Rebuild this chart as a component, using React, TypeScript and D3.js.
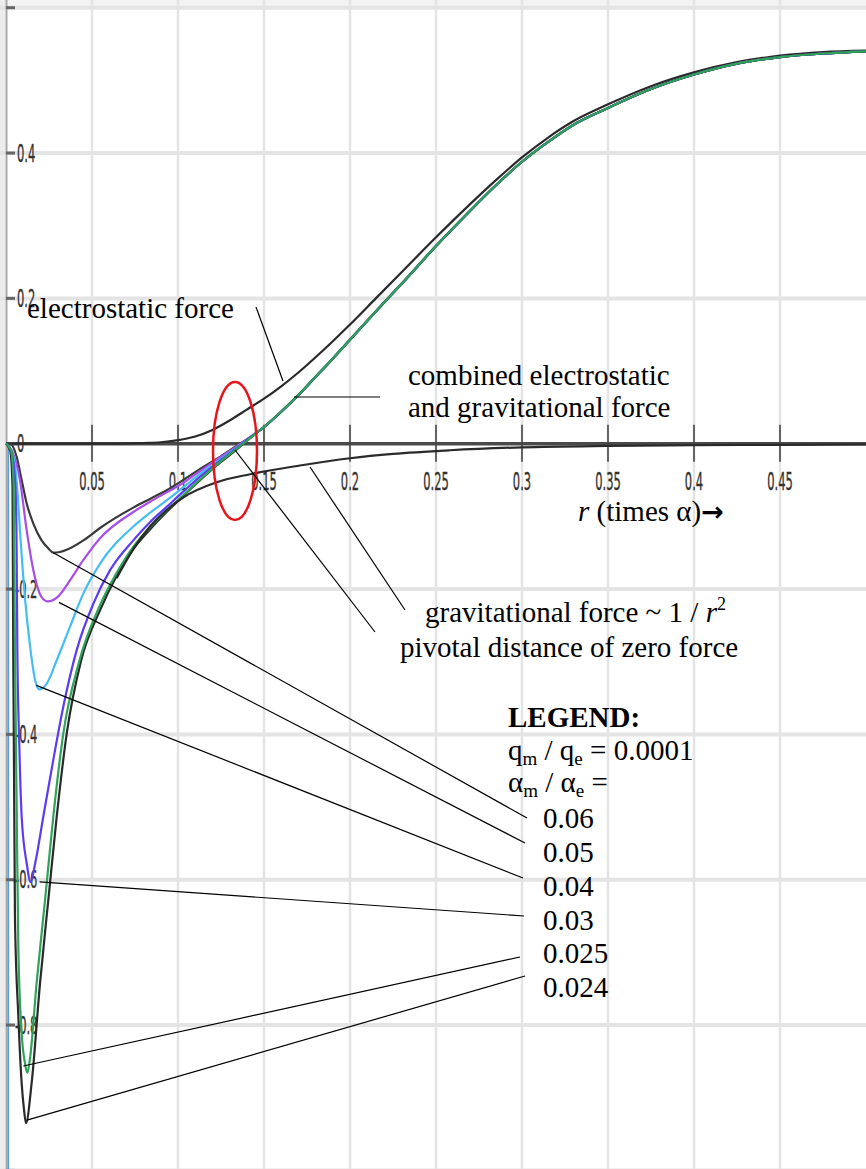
import React from "react";
import * as d3 from "d3";

type Pt = [number, number];

const width = 866;
const height = 1169;

// axis ticks
const xTickValues = [0.05, 0.1, 0.15, 0.2, 0.25, 0.3, 0.35, 0.4, 0.45];
const xTickLabels = ["0.05", "0.1", "0.15", "0.2", "0.25", "0.3", "0.35", "0.4", "0.45"];
const xGridValues = [0.05, 0.1, 0.15, 0.2, 0.25, 0.3, 0.35, 0.4, 0.45];
const yGridValues = [0.6, 0.4, 0.2, -0.2, -0.4, -0.6, -0.8, -1.0];
const yTickValues = [0.6, 0.4, 0.2, 0, -0.2, -0.4, -0.6, -0.8, -1.0];
const yTickLabels = ["", "0.4", "0.2", "0", "-0.2", "-0.4", "-0.6", "-0.8", ""];

// electrostatic force (upper black curve)
const electrostatic: Pt[] = [
  [0, 0], [0.06, 0], [0.08, 0.001], [0.09, 0.002], [0.1, 0.005], [0.11, 0.01],
  [0.12, 0.019], [0.13, 0.032], [0.14, 0.047], [0.15, 0.062], [0.16, 0.079],
  [0.17, 0.098], [0.18, 0.119], [0.19, 0.141], [0.2, 0.164], [0.215, 0.2],
  [0.23, 0.236], [0.25, 0.284], [0.27, 0.33], [0.285, 0.363], [0.3, 0.394],
  [0.315, 0.421], [0.33, 0.444], [0.35, 0.467], [0.375, 0.492], [0.4, 0.511],
  [0.425, 0.525], [0.45, 0.534], [0.475, 0.539], [0.5, 0.541],
];

// gravitational force ~ 1/r^2
const gravitational: Pt[] = [
  [0.0643, -0.185], [0.074, -0.145], [0.0837, -0.114], [0.093, -0.092], [0.103, -0.074],
  [0.1225, -0.053], [0.1419, -0.042], [0.1709, -0.03], [0.2, -0.02], [0.225, -0.014],
  [0.258, -0.009], [0.3, -0.005], [0.35, -0.003], [0.4, -0.002], [0.45, -0.0015], [0.5, -0.001],
];

// combined force beyond the pivot, shared by all ratios
const combinedTail: Pt[] = [
  [0.15, 0.023], [0.16, 0.044], [0.17, 0.067], [0.18, 0.092], [0.19, 0.117],
  [0.2, 0.143], [0.215, 0.182], [0.23, 0.22], [0.25, 0.272], [0.27, 0.321],
  [0.285, 0.356], [0.3, 0.388], [0.315, 0.415], [0.33, 0.439], [0.35, 0.462],
  [0.375, 0.488], [0.4, 0.508], [0.425, 0.523], [0.45, 0.532], [0.475, 0.537], [0.5, 0.54],
];

// combined force, alpha_m / alpha_e = 0.06 ... 0.024
const combined006: Pt[] = [
  [0, 0], [0.0023, 0], [0.0062, -0.018], [0.0091, -0.05], [0.012, -0.082], [0.0159, -0.11],
  [0.0207, -0.133], [0.0246, -0.144], [0.0275, -0.15], [0.0314, -0.149], [0.0353, -0.146],
  [0.045, -0.133], [0.0547, -0.116], [0.074, -0.088], [0.0837, -0.076], [0.0934, -0.064],
  [0.103, -0.05], [0.112, -0.036], [0.1225, -0.021], [0.132, -0.006], [0.14, 0.006],
];
const combined005: Pt[] = [
  [0, 0], [0.0035, -0.01], [0.0081, -0.05], [0.012, -0.119], [0.0159, -0.174],
  [0.0207, -0.211], [0.0244, -0.217], [0.0304, -0.21], [0.0372, -0.188], [0.045, -0.16],
  [0.0547, -0.13], [0.074, -0.094], [0.0837, -0.08], [0.0934, -0.067], [0.103, -0.054],
  [0.112, -0.039], [0.1225, -0.022], [0.132, -0.007], [0.14, 0.006],
];
const combined004: Pt[] = [
  [0, 0], [0.003, -0.01], [0.0052, -0.03], [0.0068, -0.07], [0.0081, -0.119],
  [0.011, -0.211], [0.014, -0.279], [0.0169, -0.325], [0.0194, -0.338], [0.0237, -0.33],
  [0.0295, -0.298], [0.0372, -0.252], [0.045, -0.206], [0.0547, -0.165], [0.074, -0.114],
  [0.0837, -0.095], [0.0934, -0.078], [0.103, -0.06], [0.112, -0.043], [0.1225, -0.025],
  [0.132, -0.009], [0.14, 0.005],
];
const combined003: Pt[] = [
  [0, 0], [0.003, -0.01], [0.0055, -0.06], [0.0062, -0.15], [0.0066, -0.284],
  [0.0078, -0.42], [0.0091, -0.513], [0.012, -0.577], [0.0143, -0.603], [0.017, -0.577],
  [0.0217, -0.513], [0.0275, -0.435], [0.0333, -0.362], [0.0411, -0.284], [0.0508, -0.22],
  [0.0605, -0.174], [0.074, -0.133], [0.0837, -0.108], [0.0934, -0.087], [0.103, -0.066],
  [0.112, -0.047], [0.1225, -0.027], [0.132, -0.01], [0.14, 0.005],
];
const combined0025: Pt[] = [
  [0, 0], [0.003, -0.01], [0.0045, -0.06], [0.0052, -0.28], [0.0062, -0.5],
  [0.0072, -0.697], [0.0091, -0.811], [0.011, -0.852], [0.0124, -0.866], [0.014, -0.845],
  [0.0178, -0.742], [0.0227, -0.628], [0.0275, -0.513], [0.0333, -0.399], [0.0425, -0.3],
  [0.0547, -0.222], [0.0643, -0.178], [0.074, -0.142], [0.0837, -0.115], [0.0934, -0.092],
  [0.103, -0.071], [0.112, -0.051], [0.1225, -0.029], [0.132, -0.011], [0.14, 0.004],
];
const combined0024: Pt[] = [
  [0, 0], [0.0025, -0.01], [0.0038, -0.06], [0.0042, -0.284], [0.0052, -0.651],
  [0.0072, -0.789], [0.0091, -0.88], [0.0105, -0.917], [0.0116, -0.935], [0.0149, -0.88],
  [0.0198, -0.742], [0.0246, -0.628], [0.0295, -0.513], [0.0353, -0.399], [0.0435, -0.3],
  [0.0547, -0.229], [0.0643, -0.182], [0.074, -0.145], [0.0837, -0.118], [0.0934, -0.094],
  [0.103, -0.072], [0.112, -0.052], [0.1225, -0.03], [0.132, -0.012], [0.14, 0.004],
];

const ratioLabels = ["0.06", "0.05", "0.04", "0.03", "0.025", "0.024"];
const ratioHeads = [combined006, combined005, combined004, combined003, combined0025, combined0024];
const ratioColors = ["#3a3a3a", "#a64ee6", "#45bdf0", "#5a3cf2", "#2fa35a", "#2a2a2a"];

const x = d3.scaleLinear().domain([0, 0.5]).range([6, 866]);
const y = d3.scaleLinear().domain([-1, 0.6]).range([1170.4, 7.7]);

const line = d3
  .line<Pt>()
  .x((d) => x(d[0]))
  .y((d) => y(d[1]))
  .curve(d3.curveMonotoneX);

const serif = "'Liberation Serif', 'Times New Roman', serif";
const tickFont = "'DejaVu Sans', sans-serif";

const App = () => {
  // draw order: green last so it sits on top of the shared tail
  const drawOrder = [0, 1, 2, 3, 5, 4];
  // where each legend pointer starts (relative to the curve minimum) and ends
  const pointerStart: Pt[] = [[0, 0], [11, 1], [-3, -4], [9, 0], [-4, -7], [1, -3]];
  const pointerEnd: Pt[] = [[527, 818], [525, 843], [523, 878], [524, 916], [520, 957], [525, 976]];
  const legendY = [828, 862, 896, 930, 963, 997];

  return (
    <svg
      width={width}
      height={height}
      style={{ position: "absolute", left: 0, top: 0, background: "#fff" }}
    >
      {/* grid */}
      <rect x={0} y={0} width={width} height={8} fill="#f3f3f3" />
      <rect x={0} y={0} width={5} height={height} fill="#ededed" />
      {xGridValues.map((t) => (
        <line key={"gx" + t} x1={x(t)} x2={x(t)} y1={0} y2={height} stroke="#e4e4e4" strokeWidth={2.5} />
      ))}
      {yGridValues.map((t) => (
        <line key={"gy" + t} x1={0} x2={width} y1={y(t)} y2={y(t)} stroke="#e4e4e4" strokeWidth={4} />
      ))}

      {/* axes */}
      <line x1={6.5} x2={6.5} y1={0} y2={height} stroke="#a8a8a8" strokeWidth={2} />
      <line x1={x(0)} x2={width} y1={y(0)} y2={y(0)} stroke="#4a4a4a" strokeWidth={3.5} />
      <line x1={8.3} x2={8.3} y1={y(0)} y2={height} stroke="#5a9ee0" strokeWidth={1.8} />
      {xTickValues.map((t) => (
        <line key={"tx" + t} x1={x(t)} x2={x(t)} y1={y(0) - 19} y2={y(0) + 18} stroke="#444" strokeWidth={1.6} />
      ))}
      {yTickValues.map((t) => (
        <line key={"ty" + t} x1={6} x2={15} y1={y(t)} y2={y(t)} stroke="#666" strokeWidth={3} />
      ))}
      {xTickValues.map((t, i) => (
        <text
          key={"lx" + t}
          transform={`translate(${x(t)},490) scale(0.46,1)`}
          textAnchor="middle"
          fontFamily={tickFont}
          fontSize={25}
          fill="#333"
          stroke="#333"
          strokeWidth={0.4}
        >
          {xTickLabels[i]}
        </text>
      ))}
      {yTickValues.map((t, i) => (
        <text
          key={"ly" + t}
          transform={`translate(${t < 0 ? 15 : 17},${y(t) + 8.5}) scale(0.46,1)`}
          fontFamily={tickFont}
          fontSize={25}
          fill="#333"
          stroke="#333"
          strokeWidth={0.4}
        >
          {yTickLabels[i]}
        </text>
      ))}

      {/* curves */}
      <path d={line(electrostatic) ?? ""} fill="none" stroke="#2a2a2a" strokeWidth={2.2} />
      {drawOrder.map((i) => (
        <path
          key={"c" + i}
          d={line([...ratioHeads[i], ...combinedTail]) ?? ""}
          fill="none"
          stroke={ratioColors[i]}
          strokeWidth={2.2}
        />
      ))}
      <path d={line(gravitational) ?? ""} fill="none" stroke="#2a2a2a" strokeWidth={2.2} />

      {/* pivot marker */}
      <ellipse cx={235} cy={451} rx={22} ry={69} fill="none" stroke="#e8141c" strokeWidth={2.5} />

      {/* annotations */}
      <g fontFamily={serif} fontSize={29} fill="#000">
        <text x={27} y={318}>electrostatic force</text>
        <line x1={256} y1={307} x2={283} y2={381} stroke="#000" strokeWidth={1.2} />
        <text x={408} y={385}>combined electrostatic</text>
        <text x={408} y={417}>and gravitational force</text>
        <line x1={294} y1={397} x2={380} y2={397} stroke="#000" strokeWidth={1.2} />
        <text x={578} y={521}>
          <tspan fontStyle="italic">r</tspan> (times α)
          <tspan fontFamily="'DejaVu Sans', sans-serif" fontWeight="bold" fontSize={27}>→</tspan>
        </text>
        <text x={425} y={622}>
          gravitational force ~ 1 / <tspan fontStyle="italic">r</tspan>
          <tspan fontSize={18} dy={-12}>2</tspan>
        </text>
        <line x1={310} y1={467} x2={405} y2={610} stroke="#000" strokeWidth={1.2} />
        <text x={400} y={657}>pivotal distance of zero force</text>
        <line x1={235} y1={450} x2={375} y2={632} stroke="#000" strokeWidth={1.2} />

        <text x={508} y={727} fontWeight="bold">LEGEND:</text>
        <text x={508} y={760}>
          q<tspan fontSize={19} dy={5}>m</tspan>
          <tspan dy={-5}> / q</tspan>
          <tspan fontSize={19} dy={5}>e</tspan>
          <tspan dy={-5}> = 0.0001</tspan>
        </text>
        <text x={508} y={792}>
          α<tspan fontSize={19} dy={5}>m</tspan>
          <tspan dy={-5}> / α</tspan>
          <tspan fontSize={19} dy={5}>e</tspan>
          <tspan dy={-5}> =</tspan>
        </text>
        {ratioLabels.map((lab, i) => {
          const head = ratioHeads[i];
          const m = d3.least(head, (d) => d[1]) as Pt;
          return (
            <g key={"lg" + lab}>
              <line
                x1={x(m[0]) + pointerStart[i][0]}
                y1={y(m[1]) + pointerStart[i][1]}
                x2={pointerEnd[i][0]}
                y2={pointerEnd[i][1]}
                stroke="#000"
                strokeWidth={1.2}
              />
              <text x={543} y={legendY[i]}>{lab}</text>
            </g>
          );
        })}
      </g>
    </svg>
  );
};

export default App;
